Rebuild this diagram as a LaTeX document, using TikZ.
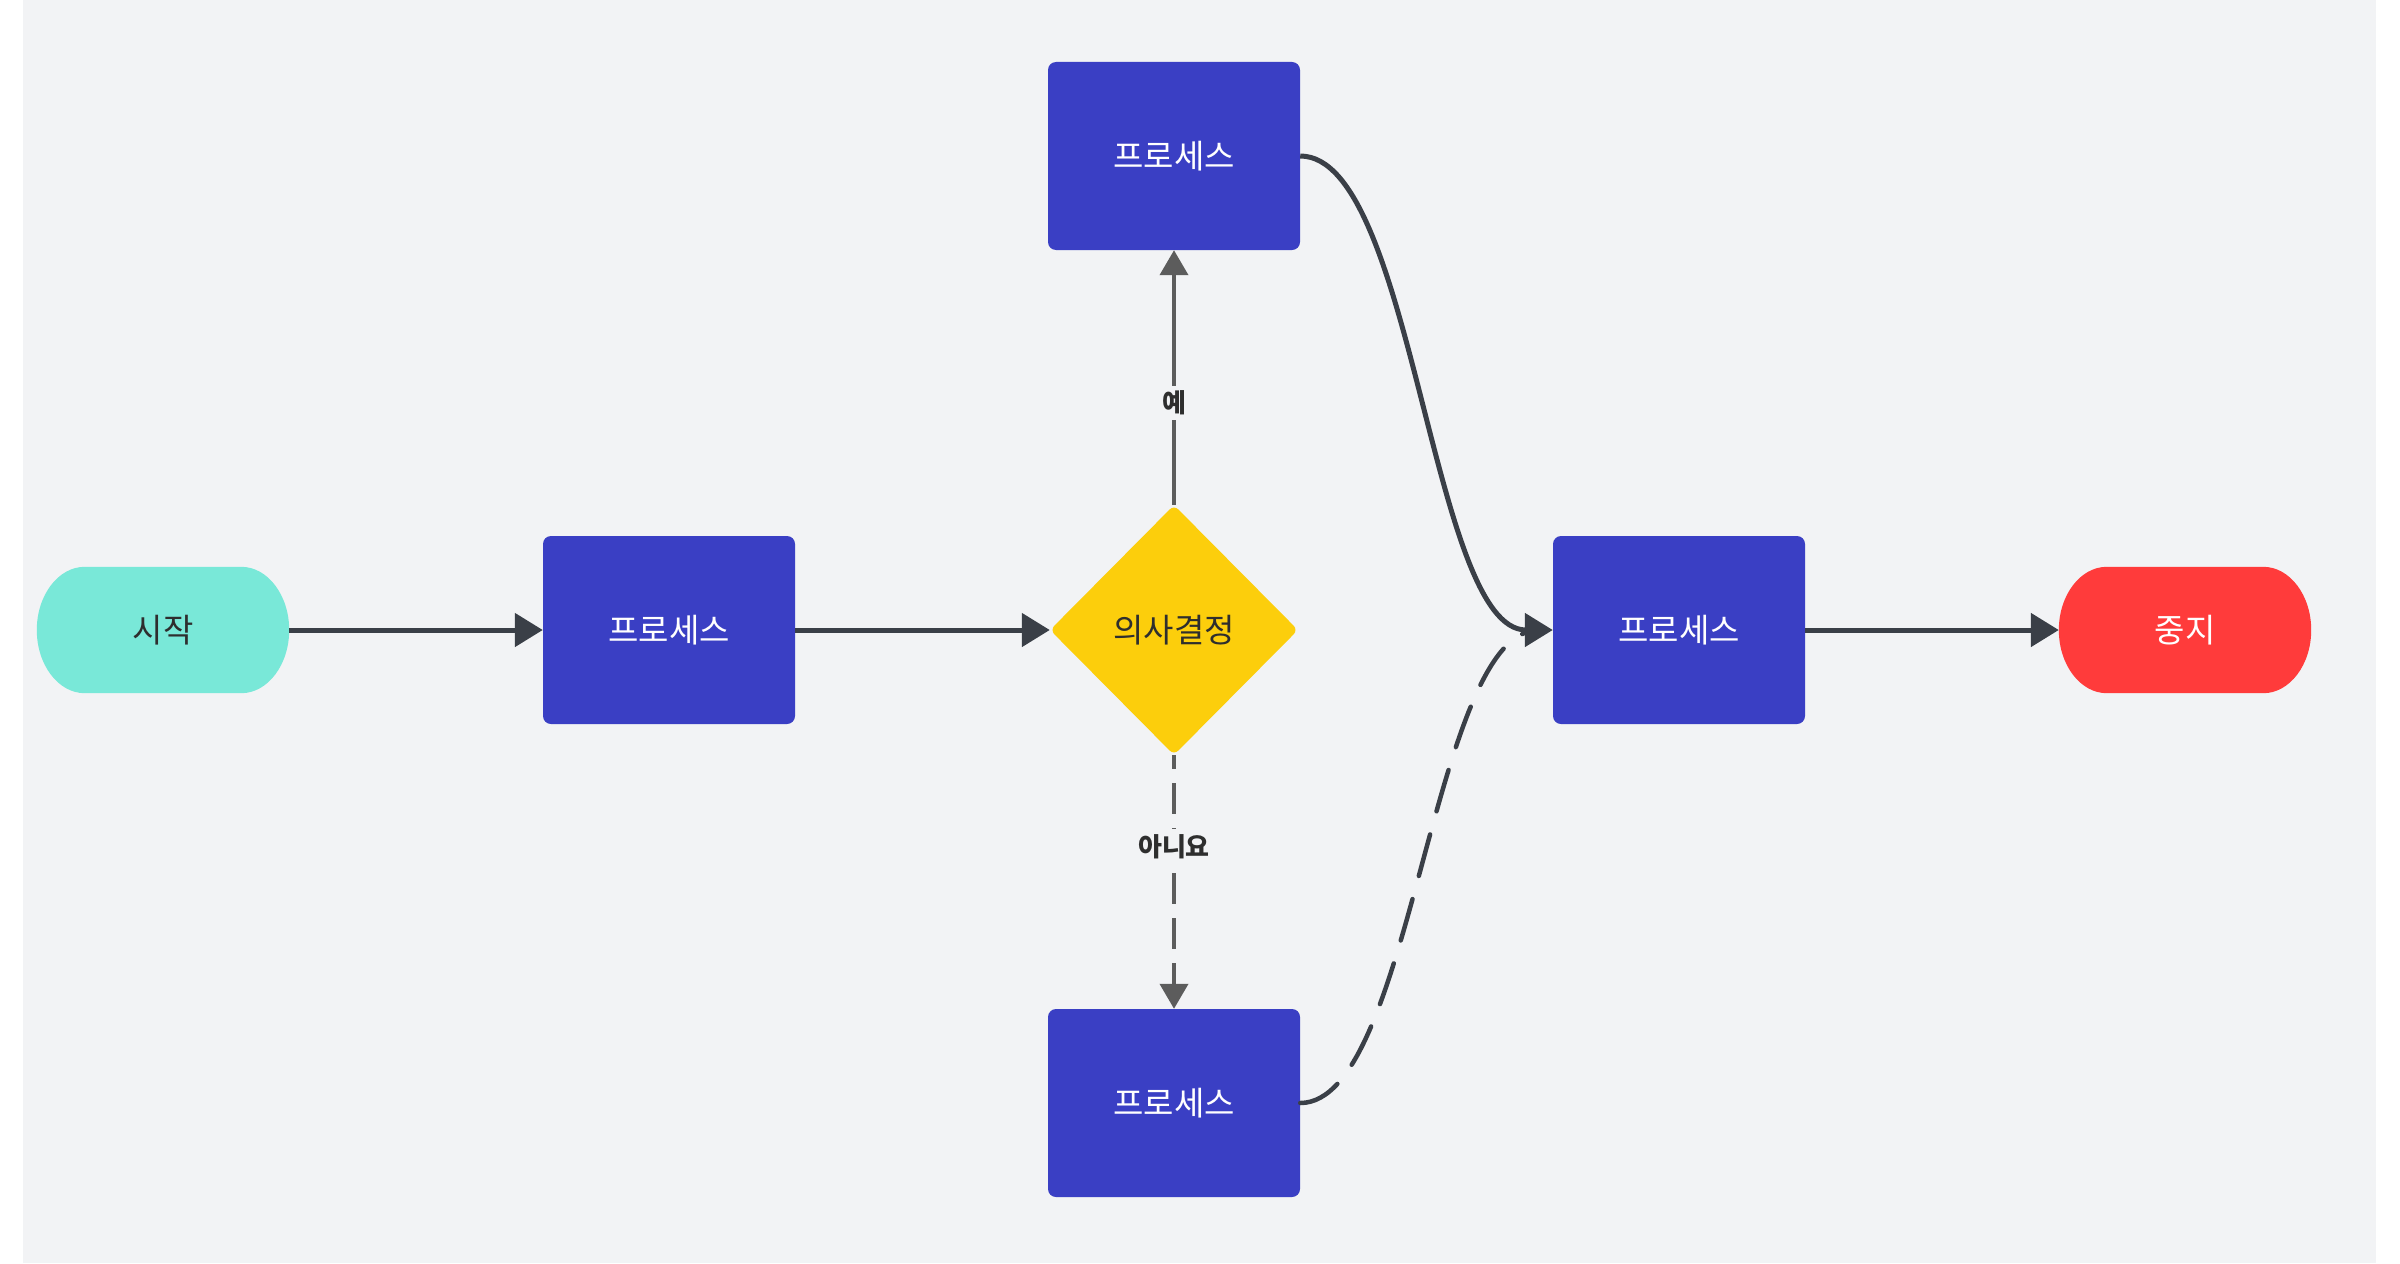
\documentclass[tikz,border=0pt]{standalone}
\usepackage{fontspec}
\setmainfont{Noto Sans CJK KR}
\usetikzlibrary{arrows.meta,shapes.geometric}
\definecolor{bgc}{HTML}{F2F3F5}
\definecolor{startc}{HTML}{79E8D8}
\definecolor{procc}{HTML}{3A3FC4}
\definecolor{decc}{HTML}{FCCE0C}
\definecolor{stopc}{HTML}{FF3B3B}
\definecolor{linec}{HTML}{3A3F47}
\definecolor{grayc}{HTML}{5C5C5C}
\definecolor{textc}{HTML}{2E2E2E}
\pgfdeclarelayer{bglayer}
\pgfdeclarelayer{pilllayer}
\pgfsetlayers{bglayer,pilllayer,main}
\newcommand\pillfill[2]{%
  \fill[#2] ([xshift=48pt]#1.north west) -- ([xshift=-48pt]#1.north east)
   .. controls ([xshift=-21.5pt]#1.north east) and ([yshift=34.8pt]#1.east) .. (#1.east)
   .. controls ([yshift=-34.8pt]#1.east) and ([xshift=-21.5pt]#1.south east) .. ([xshift=-48pt]#1.south east)
   -- ([xshift=48pt]#1.south west)
   .. controls ([xshift=21.5pt]#1.south west) and ([yshift=-34.8pt]#1.west) .. (#1.west)
   .. controls ([yshift=34.8pt]#1.west) and ([xshift=21.5pt]#1.north west) .. ([xshift=48pt]#1.north west)
   -- cycle;}
\begin{document}
\begin{tikzpicture}[x=1pt,y=-1pt,
  basefont/.style={font=\fontsize{33}{40}\selectfont},
  proc/.style={rectangle, rounded corners=8pt, fill=procc, minimum width=252pt, minimum height=188pt, inner sep=0pt, text=white, basefont},
  term/.style={rectangle, minimum width=252pt, minimum height=126pt, inner sep=0pt, basefont},
  dec/.style={diamond, fill=decc, minimum width=248pt, minimum height=250pt, inner sep=0pt, rounded corners=6pt, text=textc, basefont},
  conn/.style={draw=linec, line width=5pt, -{Triangle[length=28pt,width=33pt]}},
  gconn/.style={draw=grayc, line width=4pt, -{Triangle[length=25pt,width=28pt]}},
  dconn/.style={draw=linec, line width=4.5pt, dash pattern=on 43pt off 24pt, line cap=round},
  lbl/.style={fill=bgc, text=textc, font=\bfseries\fontsize{26}{30}\selectfont, inner sep=5pt}]
\useasboundingbox (0,0) rectangle (2400,1263);
\begin{pgfonlayer}{bglayer}
\fill[white] (0,0) rectangle (2400,1263);
\fill[bgc] (23,0) rectangle (2376,1263);
\end{pgfonlayer}

\node[term, text=textc] (S) at (163,630) {시작};
\node[proc] (P1) at (669,630) {프로세스};
\node[dec] (D) at (1174,630) {의사결정};
\node[proc] (T) at (1174,156) {프로세스};
\node[proc] (B) at (1174,1103) {프로세스};
\node[proc] (R) at (1679,630) {프로세스};
\node[term, text=white] (E) at (2185,630) {중지};

\begin{pgfonlayer}{pilllayer}
\pillfill{S}{startc}
\pillfill{E}{stopc}
\end{pgfonlayer}

\draw[conn] (S) -- (P1);
\draw[conn] (P1) -- (D);
\draw[gconn] (D) -- node[lbl, pos=0.4] {예} (T);
\draw[gconn, dash pattern=on 31pt off 14pt, dash phase=17pt] (D) -- node[lbl, pos=0.36] {아니요} (B);
\draw[conn] (T.east) .. controls +(113pt,0) and +(-122pt,0) .. (R.west);
\draw[dconn, shorten >=14pt] (B.east) .. controls +(113pt,0) and +(-122pt,0) .. (R.west);
\draw[conn] (R) -- (E);
\end{tikzpicture}
\end{document}
